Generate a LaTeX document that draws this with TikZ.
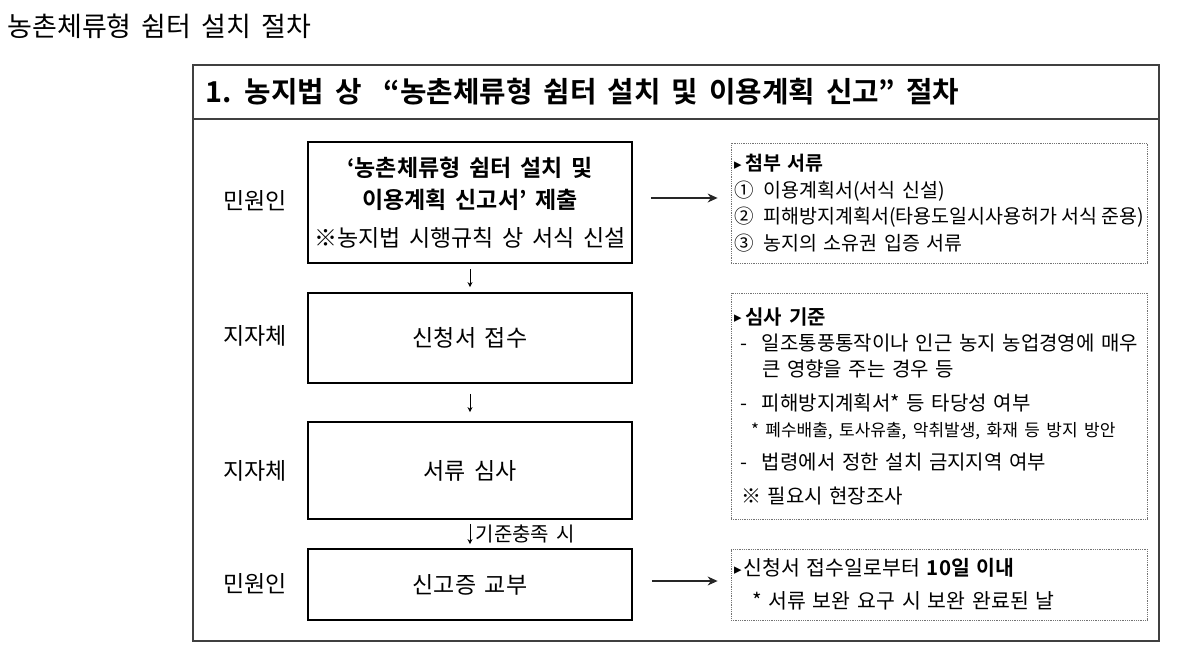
\documentclass[tikz,border=0pt]{standalone}
\usepackage{fontspec}
\setmainfont{Noto Sans CJK KR}[BoldFont={Noto Sans CJK KR Bold}]
\newfontfamily\symfont{DejaVu Sans}
\usetikzlibrary{calc,arrows.meta}
\newcommand\bullettri{\raisebox{1.5pt}{\symfont\fontsize{15}{15}\selectfont ▸}}
\newcommand\dashitem{\makebox[28pt][l]{\hspace{6pt}-}}
\newcommand\fsz[2]{\fontsize{#1}{#2}\selectfont\spaceskip=0.38em\relax}

\begin{document}
\begin{tikzpicture}[x=1pt,y=1pt]
		\tikzstyle{stepbox}=[draw, line width=1.8pt, minimum width=324pt,
								  align=center, inner sep=0pt,
								  font=\fsz{23}{32}]
		\tikzstyle{notebox}=[draw=black!55, densely dotted, line width=0.8pt,
								  minimum width=416pt, text width=410pt,
								  align=left, inner xsep=3pt, inner ysep=4pt]
		\tikzstyle{actor}=[font=\fsz{23}{23}]
		\tikzstyle{FlowSty}=[-{Stealth[length=10pt,width=9pt]},line width=1.3pt,draw=black!85]
		\tikzstyle{DownSty}=[-{Stealth[length=5pt,width=5pt]},line width=0.8pt]

\useasboundingbox (0,0) rectangle (1198,646);

\node[anchor=west, font=\fsz{27}{27}] at (4,620) (page_title) {농촌체류형 쉼터 설치 절차};

% frame and header row
\draw[line width=1.5pt, draw=black!75] (193,5) rectangle (1159,581);
\draw[line width=1.5pt, draw=black!75] (193,527) -- (1159,527);
\node[anchor=west, font=\bfseries\fsz{28.8}{28.8}] at (202,554) (header)
  {1. 농지법 상~~“농촌체류형 쉼터 설치 및 이용계획 신고” 절차};

% procedure steps
\node[stepbox, minimum height=121pt] at (470,443.5) (box_submit)
  {\textbf{‘농촌체류형 쉼터 설치 및}\\\textbf{이용계획 신고서’ 제출}\\[6pt]※농지법 시행규칙 상 서식 신설};
\node[stepbox, minimum height=90pt, yshift=-135.5pt] at (box_submit) (box_receive) {신청서 접수};
\node[stepbox, minimum height=97pt, yshift=-132.5pt] at (box_receive) (box_review) {서류 심사};
\node[stepbox, minimum height=71pt, yshift=-114pt] at (box_review) (box_issue) {신고증 교부};

\node[actor, xshift=-215pt, yshift=2pt] at (box_submit) (actor_submit) {민원인};
\node[actor, xshift=-215pt, yshift=2pt] at (box_receive) (actor_receive) {지자체};
\node[actor, xshift=-215pt] at (box_review) (actor_review) {지자체};
\node[actor, xshift=-215pt, yshift=1pt] at (box_issue) (actor_issue) {민원인};

\draw[DownSty] ([yshift=-5pt]box_submit.south) -- ([yshift=5pt]box_receive.north);
\draw[DownSty] ([yshift=-10pt]box_receive.south) -- ([yshift=9pt]box_review.north);
\draw[DownSty] ([yshift=-4pt]box_review.south) -- node[right, xshift=2pt, font=\fsz{20}{20}] (cond_label) {기준충족 시} ([yshift=4pt]box_issue.north);

% notes
\node[notebox, minimum height=120pt, font=\fsz{19.5}{26.5}] at (939,443) (note_docs)
  {\bullettri\hspace{4pt}\textbf{첨부 서류}\\
   ①\hspace{10pt}이용계획서(서식 신설)\\
   \mbox{\spaceskip=0pt ②\hspace{10pt}피해방지계획서(타용도일시사용허가 서식 준용)}\\
   ③\hspace{10pt}농지의 소유권 입증 서류};
\node[notebox, minimum height=226pt, font=\fsz{20}{26}] at (939,240) (note_criteria)
  {\bullettri\hspace{4pt}\textbf{심사 기준}\\
   \dashitem 일조통풍통작이나 인근 농지 농업경영에 매우\\
   \hspace*{28pt}큰 영향을 주는 경우 등\\[8pt]
   \dashitem 피해방지계획서* 등 타당성 여부\\
   {\fsz{17}{17}\hspace*{17pt}* 폐수배출, 토사유출, 악취발생, 화재 등 방지 방안}\\[7pt]
   \dashitem 법령에서 정한 설치 금지지역 여부\\[8pt]
   \hspace*{7pt}※ 필요시 현장조사};
\node[notebox, minimum height=71pt, font=\fsz{20.5}{27}] at (939,61.5) (note_issue)
  {\bullettri\hspace{2pt}신청서 접수일로부터 \textbf{10일 이내}\\[6pt]
   \hspace*{18pt}* 서류 보완 요구 시 보완 완료된 날};

\draw[FlowSty] ([shift={(18pt,4.5pt)}]box_submit.east) -- ([shift={(-13pt,5pt)}]note_docs.west);
\draw[FlowSty] ([shift={(19pt,3.5pt)}]box_issue.east) -- ([shift={(-13pt,3.5pt)}]note_issue.west);

\end{tikzpicture}
\end{document}
